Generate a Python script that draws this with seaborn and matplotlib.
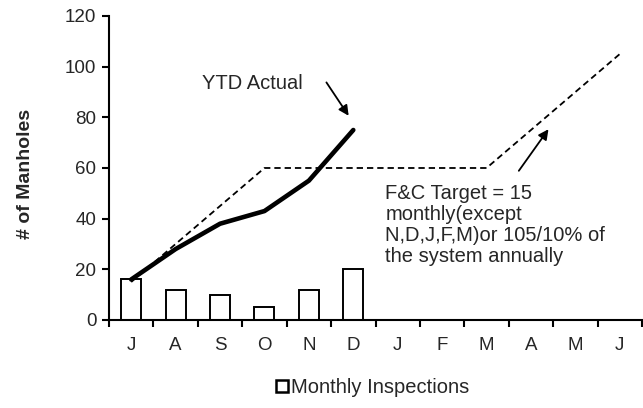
import matplotlib
matplotlib.use("Agg")
import matplotlib.pyplot as plt
import seaborn as sns
import pandas as pd
from matplotlib.patches import Patch

months = ["Jul", "Aug", "Sep", "Oct", "Nov", "Dec", "Jan", "Feb", "Mar", "Apr", "May", "Jun"]
month_labels = ["J", "A", "S", "O", "N", "D", "J", "F", "M", "A", "M", "J"]
monthly_inspections = [16, 12, 10, 5, 12, 20]
ytd_actual = [16, 28, 38, 43, 55, 75]
fc_target = [15, 30, 45, 60, 60, 60, 60, 60, 60, 75, 90, 105]

sns.set_theme(style="white")
plt.rcParams["font.family"] = ["Liberation Sans", "DejaVu Sans"]

fig = plt.figure(figsize=(6.43, 4.08), dpi=100)
ax = fig.add_axes([0.1695, 0.2157, 0.829, 0.7451])

bars_df = pd.DataFrame({"month": months[:len(monthly_inspections)], "count": monthly_inspections})
sns.barplot(data=bars_df, x="month", y="count", order=months, ax=ax,
            color="white", edgecolor="black", linewidth=1.4, width=0.45,
            saturation=1)

target_df = pd.DataFrame({"month": months, "value": fc_target})
actual_df = pd.DataFrame({"month": months[:len(ytd_actual)], "value": ytd_actual})
sns.lineplot(data=target_df, x="month", y="value", ax=ax, color="black",
             linewidth=1.3, linestyle=(0, (3.5, 2.2)), sort=False)
sns.lineplot(data=actual_df, x="month", y="value", ax=ax, color="black",
             linewidth=3.3, sort=False, solid_capstyle="round")

ax.set_xlim(-0.5, 11.5)
ax.set_ylim(0, 120)
ax.set_yticks(range(0, 121, 20))
ax.set_xticks(range(len(months)))
ax.set_xticklabels(month_labels)
ax.set_xticks([i - 0.5 for i in range(len(months) + 1)], minor=True)
ax.tick_params(axis="x", which="major", bottom=False, length=0, pad=12, labelsize=13.5)
ax.tick_params(axis="x", which="minor", bottom=True, length=5, width=1.5, color="black", direction="out")
ax.tick_params(axis="y", left=True, length=5, width=1.5, color="black", direction="out",
               labelsize=13.5, pad=4)
ax.set_xlabel("")
ax.set_ylabel("# of Manholes", fontsize=14, fontweight="bold")
ax.yaxis.set_label_coords(-0.14, 0.48)

for s in ["top", "right"]:
    ax.spines[s].set_visible(False)
for s in ["left", "bottom"]:
    ax.spines[s].set_color("black")
    ax.spines[s].set_linewidth(1.5)

ax.text(1.6, 93.5, "YTD Actual", fontsize=14.5, va="center", ha="left")
ax.annotate("", xy=(4.93, 79.7), xytext=(4.36, 94.7),
            arrowprops=dict(arrowstyle="-|>", color="black", lw=1.3, mutation_scale=15))
ax.annotate("", xy=(9.43, 76.2), xytext=(8.69, 58),
            arrowprops=dict(arrowstyle="-|>", color="black", lw=1.3, mutation_scale=15))
ax.text(5.72, 53.5,
        "F&C Target = 15\nmonthly(except\nN,D,J,F,M)or 105/10% of\nthe system annually",
        fontsize=14.5, va="top", ha="left", linespacing=1.12)

handle = Patch(facecolor="white", edgecolor="black", linewidth=1.8)
fig.legend([handle], ["Monthly Inspections"], loc="center", bbox_to_anchor=(0.58, 0.05),
           frameon=False, fontsize=14.5, handlelength=0.6, handleheight=0.6,
           handletextpad=0.15)

fig.savefig("out.png", dpi=100)
